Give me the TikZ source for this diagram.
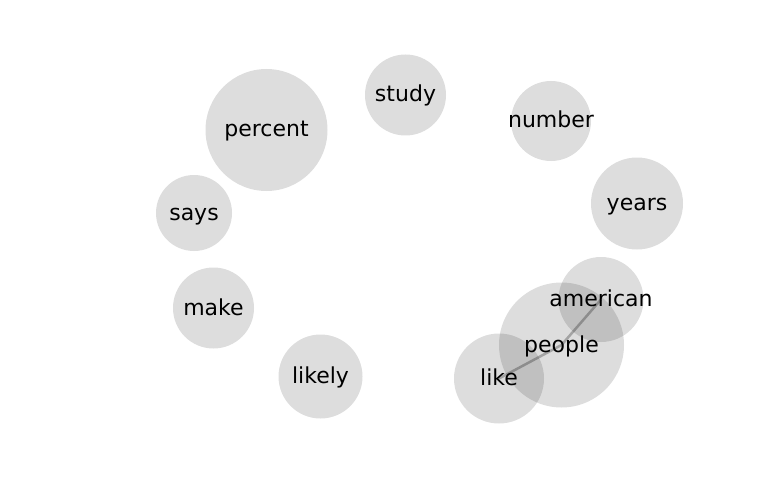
\documentclass[tikz,border=0pt]{standalone}
\usepackage{fontspec}
\setmainfont{DejaVu Sans}
\usepackage{tikz}
\usetikzlibrary{backgrounds}

\begin{document}
\begin{tikzpicture}[x=1pt, y=-1pt,
    bubble/.style={circle, inner sep=0pt, minimum size=#1, fill=black, fill opacity=0.133},
    word/.style={font=\fontsize{22}{24}\selectfont, text=black, inner sep=0pt,
      text height=18pt, text depth=4pt},
    edge/.style={draw=black!26, line width=2.5pt}]
  \useasboundingbox (0,0) rectangle (768,500);
  % word bubbles
  \node[bubble=122pt] (percent) at (266.5,130) {};
  \node[bubble=81pt] (study) at (405.5,95) {};
  \node[bubble=80pt] (number) at (551,121) {};
  \node[bubble=92pt] (years) at (637,203.5) {};
  \node[bubble=76pt] (says) at (194,213) {};
  \node[bubble=81pt] (make) at (213.5,308) {};
  \node[bubble=84pt] (likely) at (320.5,376.5) {};
  \node[bubble=85pt] (american) at (601,299.5) {};
  \node[bubble=125pt] (people) at (561.5,345) {};
  \node[bubble=90pt] (like) at (499,378.5) {};
  % links, kept under the bubbles
  \begin{pgfonlayer}{background}
    \draw[edge] (like.center) -- (people.center) -- (american.center);
  \end{pgfonlayer}
  % words
  \foreach \w in {percent, study, number, years, says, make, likely, american, people, like}
    \node[word] at (\w) {\w};
\end{tikzpicture}
\end{document}
